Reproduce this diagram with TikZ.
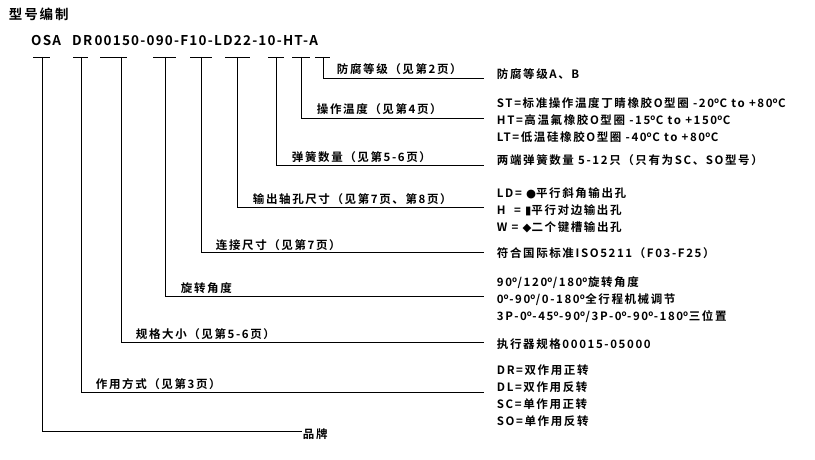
\documentclass[tikz,border=0pt]{standalone}
\usepackage{fontspec}
\setmainfont{Noto Sans CJK SC}[BoldFont={Noto Sans CJK SC Bold},LetterSpace=14]
\newfontfamily\symfont{DejaVu Sans}
\newcommand{\dg}{\textsuperscript{o}}
\tikzset{
  lbl/.style={anchor=west,inner sep=0.75pt,font=\fontsize{11.5}{17}\selectfont\bfseries},
  codelbl/.style={anchor=base west,inner sep=0pt,font=\fontsize{13.5}{16}\selectfont\bfseries\addfontfeature{LetterSpace=9}},
  lead/.style={line width=0.8pt},
}
\begin{document}
\begin{tikzpicture}[x=1pt,y=-1pt]
\useasboundingbox (0,0) rectangle (815,460);

% Title and code
\node [lbl,font=\fontsize{13.5}{16}\selectfont\bfseries] (title) at (8,14) {型号编制};
\node [codelbl] (code-osa) at (31,46) {OSA};
\node [codelbl] (code-rest) at (72,46) {DR\,00150-090-F10-LD22-10-HT-A};

% Bars under the code
\foreach \xa/\xb/\xv/\yy/\nm in {33/50/42/431/osa, 73/88/81/392/act, 100/127/121/342/size, 153/176/165/296/rot, 190/212/201/252/con, 225/250/237/207/shaft, 268/284/276/165/spr, 292/310/301/118/tmp, 315/330/323/78/cor}{
  \draw [lead] (\xa,57) -- (\xb,57);
  \coordinate (\nm-top) at (\xv,57);
  \coordinate (\nm-bend) at (\xv,\yy);
}

% Left labels
\node [lbl] (cor-l) at (336,69) {防腐等级（见第2页）};
\node [lbl] (tmp-l) at (316,109) {操作温度（见第4页）};
\node [lbl] (spr-l) at (291,157) {弹簧数量（见第5-6页）};
\node [lbl] (shaft-l) at (252,199) {输出轴孔尺寸（见第7页、第8页）};
\node [lbl] (con-l) at (215,245) {连接尺寸（见第7页）};
\node [lbl] (rot-l) at (180,288) {旋转角度};
\node [lbl] (size-l) at (135,334) {规格大小（见第5-6页）};
\node [lbl] (act-l) at (95,384) {作用方式（见第3页）};
\node [lbl] (osa-l) at (302,434) {品牌};

% Leaders
\foreach \nm in {cor,tmp,spr,shaft,con,rot,size,act}{
  \draw [lead] (\nm-top) -- (\nm-bend) -- (\nm-bend -| 484,0);
}
\draw [lead] (osa-top) -- (osa-bend) -- (osa-l.west |- osa-bend);

% Right texts
\node [lbl] (cor-r) at (496,74) {防腐等级A、B};
\node [lbl,align=left] (tmp-r) at (496,120) {ST=标准操作温度丁睛橡胶O型圈 -20\dg C to +80\dg C\\HT=高温氟橡胶O型圈 -15\dg C to +150\dg C\\LT=低温硅橡胶O型圈 -40\dg C to +80\dg C};
\node [lbl] (spr-r) at (496,160) {两端弹簧数量 5-12只（只有为SC、SO型号）};
\node [lbl,align=left] (shaft-r) at (496,210) {LD= {\symfont ●}平行斜角输出孔\\H\ \ = {\symfont ▮}平行对边输出孔\\W = {\symfont ◆}二个键槽输出孔};
\node [lbl] (con-r) at (496,253) {符合国际标准ISO5211（F03-F25）};
\node [lbl,align=left] (rot-r) at (496,300) {90\dg/120\dg/180\dg 旋转角度\\0\dg-90\dg/0-180\dg 全行程机械调节\\3P-0\dg-45\dg-90\dg/3P-0\dg-90\dg-180\dg 三位置};
\node [lbl] (size-r) at (496,344) {执行器规格00015-05000};
\node [lbl,align=left] (act-r) at (496,396) {DR=双作用正转\\DL=双作用反转\\SC=单作用正转\\SO=单作用反转};
\end{tikzpicture}
\end{document}
